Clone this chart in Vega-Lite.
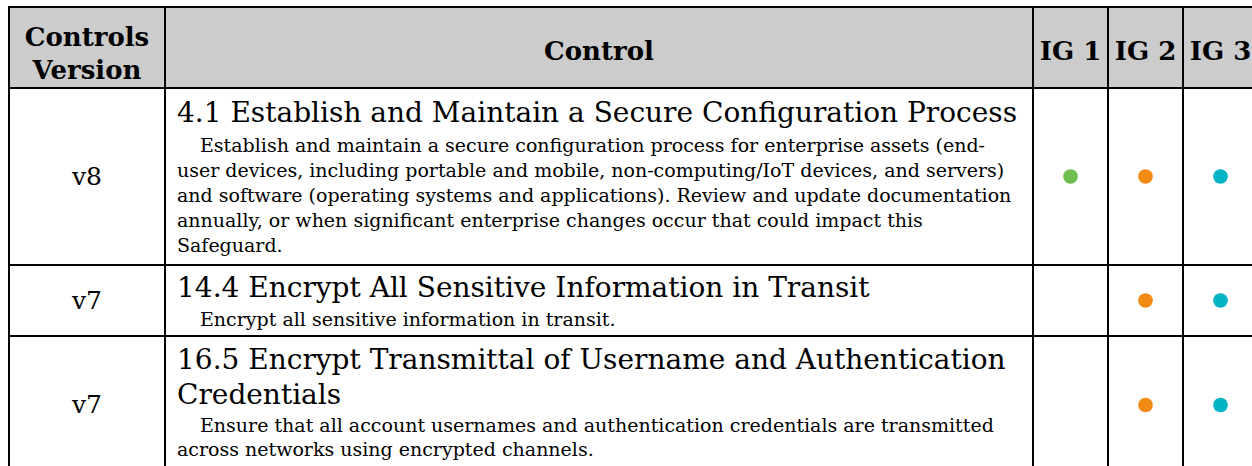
{
  "$schema": "https://vega.github.io/schema/vega-lite/v6.json",
  "padding": {"left": 8, "top": 6, "right": 0, "bottom": 0},
  "background": "white",
  "datasets": {
    "lines": [
      {"row": 0, "col": "ver", "kind": "head", "line": 0, "text": "Controls"},
      {"row": 0, "col": "ver", "kind": "head", "line": 1, "text": "Version"},
      {"row": 0, "col": "ctl", "kind": "head", "line": 0, "text": "Control"},
      {"row": 0, "col": "ig1", "kind": "head", "line": 0, "text": "IG 1"},
      {"row": 0, "col": "ig2", "kind": "head", "line": 0, "text": "IG 2"},
      {"row": 0, "col": "ig3", "kind": "head", "line": 0, "text": "IG 3"},
      {"row": 1, "col": "ver", "kind": "ver", "line": 0, "text": "v8"},
      {"row": 1, "col": "ctl", "kind": "title", "line": 0, "text": "4.1 Establish and Maintain a Secure Configuration Process"},
      {"row": 1, "col": "ctl", "kind": "desc", "line": 0, "text": "Establish and maintain a secure configuration process for enterprise assets (end-"},
      {"row": 1, "col": "ctl", "kind": "desc", "line": 1, "text": "user devices, including portable and mobile, non-computing/IoT devices, and servers)"},
      {"row": 1, "col": "ctl", "kind": "desc", "line": 2, "text": "and software (operating systems and applications). Review and update documentation"},
      {"row": 1, "col": "ctl", "kind": "desc", "line": 3, "text": "annually, or when significant enterprise changes occur that could impact this"},
      {"row": 1, "col": "ctl", "kind": "desc", "line": 4, "text": "Safeguard."},
      {"row": 2, "col": "ver", "kind": "ver", "line": 0, "text": "v7"},
      {"row": 2, "col": "ctl", "kind": "title", "line": 0, "text": "14.4 Encrypt All Sensitive Information in Transit"},
      {"row": 2, "col": "ctl", "kind": "desc", "line": 0, "text": "Encrypt all sensitive information in transit."},
      {"row": 3, "col": "ver", "kind": "ver", "line": 0, "text": "v7"},
      {"row": 3, "col": "ctl", "kind": "title", "line": 0, "text": "16.5 Encrypt Transmittal of Username and Authentication"},
      {"row": 3, "col": "ctl", "kind": "title", "line": 1, "text": "Credentials"},
      {"row": 3, "col": "ctl", "kind": "desc", "line": 0, "text": "Ensure that all account usernames and authentication credentials are transmitted"},
      {"row": 3, "col": "ctl", "kind": "desc", "line": 1, "text": "across networks using encrypted channels."}
    ],
    "dots": [
      {"row": 1, "ig": "ig1"},
      {"row": 1, "ig": "ig2"},
      {"row": 1, "ig": "ig3"},
      {"row": 2, "ig": "ig2"},
      {"row": 2, "ig": "ig3"},
      {"row": 3, "ig": "ig2"},
      {"row": 3, "ig": "ig3"}
    ]
  },
  "columns": 5,
  "spacing": 0,
  "bounds": "flush",
  "concat": [
    {
      "width": 156, "height": 81,
      "view": {"fill": "#cccccc", "stroke": "black", "strokeWidth": 2},
      "data": {"name": "lines"},
      "transform": [{"filter": "datum.row == 0 && datum.col == 'ver'"}],
      "mark": {"type": "text", "font": "DejaVu Serif", "fontWeight": "bold", "fontSize": 26, "align": "center", "baseline": "alphabetic", "color": "black"},
      "encoding": {
        "x": {"field": "col", "type": "nominal", "axis": null, "scale": {"type": "band", "paddingInner": 0, "paddingOuter": 0}, "bandPosition": 0.5},
        "y": {"field": "line", "type": "quantitative", "axis": null, "scale": {"domain": [0, 1], "range": [39, 72], "nice": false, "zero": false}},
        "text": {"field": "text"}
      }
    },
    {
      "width": 868, "height": 81,
      "view": {"fill": "#cccccc", "stroke": "black", "strokeWidth": 2},
      "data": {"name": "lines"},
      "transform": [{"filter": "datum.row == 0 && datum.col == 'ctl'"}],
      "mark": {"type": "text", "font": "DejaVu Serif", "fontWeight": "bold", "fontSize": 26, "align": "center", "baseline": "middle", "dy": 4, "color": "black"},
      "encoding": {
        "x": {"field": "col", "type": "nominal", "axis": null, "scale": {"type": "band", "paddingInner": 0, "paddingOuter": 0}, "bandPosition": 0.5},
        "y": {"field": "row", "type": "nominal", "axis": null, "scale": {"type": "band", "paddingInner": 0, "paddingOuter": 0}, "bandPosition": 0.5},
        "text": {"field": "text"}
      }
    },
    {
      "width": 75, "height": 81,
      "view": {"fill": "#cccccc", "stroke": "black", "strokeWidth": 2},
      "data": {"name": "lines"},
      "transform": [{"filter": "datum.row == 0 && datum.col == 'ig1'"}],
      "mark": {"type": "text", "font": "DejaVu Serif", "fontWeight": "bold", "fontSize": 26, "align": "center", "baseline": "middle", "dy": 4, "color": "black"},
      "encoding": {
        "x": {"field": "col", "type": "nominal", "axis": null, "scale": {"type": "band", "paddingInner": 0, "paddingOuter": 0}, "bandPosition": 0.5},
        "y": {"field": "row", "type": "nominal", "axis": null, "scale": {"type": "band", "paddingInner": 0, "paddingOuter": 0}, "bandPosition": 0.5},
        "text": {"field": "text"}
      }
    },
    {
      "width": 75, "height": 81,
      "view": {"fill": "#cccccc", "stroke": "black", "strokeWidth": 2},
      "data": {"name": "lines"},
      "transform": [{"filter": "datum.row == 0 && datum.col == 'ig2'"}],
      "mark": {"type": "text", "font": "DejaVu Serif", "fontWeight": "bold", "fontSize": 26, "align": "center", "baseline": "middle", "dy": 4, "color": "black"},
      "encoding": {
        "x": {"field": "col", "type": "nominal", "axis": null, "scale": {"type": "band", "paddingInner": 0, "paddingOuter": 0}, "bandPosition": 0.5},
        "y": {"field": "row", "type": "nominal", "axis": null, "scale": {"type": "band", "paddingInner": 0, "paddingOuter": 0}, "bandPosition": 0.5},
        "text": {"field": "text"}
      }
    },
    {
      "width": 75, "height": 81,
      "view": {"fill": "#cccccc", "stroke": "black", "strokeWidth": 2},
      "data": {"name": "lines"},
      "transform": [{"filter": "datum.row == 0 && datum.col == 'ig3'"}],
      "mark": {"type": "text", "font": "DejaVu Serif", "fontWeight": "bold", "fontSize": 26, "align": "center", "baseline": "middle", "dy": 4, "color": "black"},
      "encoding": {
        "x": {"field": "col", "type": "nominal", "axis": null, "scale": {"type": "band", "paddingInner": 0, "paddingOuter": 0}, "bandPosition": 0.5},
        "y": {"field": "row", "type": "nominal", "axis": null, "scale": {"type": "band", "paddingInner": 0, "paddingOuter": 0}, "bandPosition": 0.5},
        "text": {"field": "text"}
      }
    },

    {
      "width": 156, "height": 177,
      "view": {"stroke": "black", "strokeWidth": 2},
      "data": {"name": "lines"},
      "transform": [{"filter": "datum.row == 1 && datum.col == 'ver'"}],
      "mark": {"type": "text", "font": "DejaVu Serif", "fontSize": 25, "align": "center", "baseline": "middle", "color": "black"},
      "encoding": {
        "x": {"field": "col", "type": "nominal", "axis": null, "scale": {"type": "band", "paddingInner": 0, "paddingOuter": 0}, "bandPosition": 0.5},
        "y": {"field": "row", "type": "nominal", "axis": null, "scale": {"type": "band", "paddingInner": 0, "paddingOuter": 0}, "bandPosition": 0.5},
        "text": {"field": "text"}
      }
    },
    {
      "width": 868, "height": 177,
      "view": {"stroke": "black", "strokeWidth": 2},
      "data": {"name": "lines"},
      "transform": [{"filter": "datum.row == 1 && datum.col == 'ctl'"}],
      "layer": [
        {
          "transform": [{"filter": "datum.kind == 'title'"}],
          "mark": {"type": "text", "font": "DejaVu Serif", "fontSize": 28, "align": "left", "baseline": "alphabetic", "dx": 12, "color": "black"},
          "encoding": {
            "x": {"field": "col", "type": "nominal", "axis": null, "scale": {"type": "band", "paddingInner": 0, "paddingOuter": 0}, "bandPosition": 0},
            "y": {"field": "line", "type": "quantitative", "axis": null, "scale": {"domain": [0, 1], "range": [34, 69], "nice": false, "zero": false}},
            "text": {"field": "text"}
          }
        },
        {
          "transform": [{"filter": "datum.kind == 'desc' && datum.line == 0"}],
          "mark": {"type": "text", "font": "DejaVu Serif", "fontSize": 19, "align": "left", "baseline": "alphabetic", "dx": 35, "color": "black"},
          "encoding": {
            "x": {"field": "col", "type": "nominal", "axis": null, "scale": {"type": "band", "paddingInner": 0, "paddingOuter": 0}, "bandPosition": 0},
            "y": {"field": "line", "type": "quantitative", "axis": null, "scale": {"domain": [0, 1], "range": [64, 89], "nice": false, "zero": false}},
            "text": {"field": "text"}
          }
        },
        {
          "transform": [{"filter": "datum.kind == 'desc' && datum.line > 0"}],
          "mark": {"type": "text", "font": "DejaVu Serif", "fontSize": 19, "align": "left", "baseline": "alphabetic", "dx": 12, "color": "black"},
          "encoding": {
            "x": {"field": "col", "type": "nominal", "axis": null, "scale": {"type": "band", "paddingInner": 0, "paddingOuter": 0}, "bandPosition": 0},
            "y": {"field": "line", "type": "quantitative", "axis": null, "scale": {"domain": [0, 1], "range": [64, 89], "nice": false, "zero": false}},
            "text": {"field": "text"}
          }
        }
      ],
      "resolve": {"scale": {"y": "independent"}}
    },
    {
      "width": 75, "height": 177,
      "view": {"stroke": "black", "strokeWidth": 2},
      "data": {"name": "dots"},
      "transform": [{"filter": "datum.row == 1 && datum.ig == 'ig1'"}],
      "mark": {"type": "point", "filled": true, "size": 215, "opacity": 1},
      "encoding": {
        "x": {"field": "ig", "type": "nominal", "axis": null, "scale": {"type": "band", "paddingInner": 0, "paddingOuter": 0}, "bandPosition": 0.5},
        "y": {"field": "row", "type": "nominal", "axis": null, "scale": {"type": "band", "paddingInner": 0, "paddingOuter": 0}, "bandPosition": 0.5},
        "color": {"field": "ig", "type": "nominal", "legend": null, "scale": {"domain": ["ig1", "ig2", "ig3"], "range": ["#70bf4e", "#f28b13", "#00b4c3"]}}
      }
    },
    {
      "width": 75, "height": 177,
      "view": {"stroke": "black", "strokeWidth": 2},
      "data": {"name": "dots"},
      "transform": [{"filter": "datum.row == 1 && datum.ig == 'ig2'"}],
      "mark": {"type": "point", "filled": true, "size": 215, "opacity": 1},
      "encoding": {
        "x": {"field": "ig", "type": "nominal", "axis": null, "scale": {"type": "band", "paddingInner": 0, "paddingOuter": 0}, "bandPosition": 0.5},
        "y": {"field": "row", "type": "nominal", "axis": null, "scale": {"type": "band", "paddingInner": 0, "paddingOuter": 0}, "bandPosition": 0.5},
        "color": {"field": "ig", "type": "nominal", "legend": null, "scale": {"domain": ["ig1", "ig2", "ig3"], "range": ["#70bf4e", "#f28b13", "#00b4c3"]}}
      }
    },
    {
      "width": 75, "height": 177,
      "view": {"stroke": "black", "strokeWidth": 2},
      "data": {"name": "dots"},
      "transform": [{"filter": "datum.row == 1 && datum.ig == 'ig3'"}],
      "mark": {"type": "point", "filled": true, "size": 215, "opacity": 1},
      "encoding": {
        "x": {"field": "ig", "type": "nominal", "axis": null, "scale": {"type": "band", "paddingInner": 0, "paddingOuter": 0}, "bandPosition": 0.5},
        "y": {"field": "row", "type": "nominal", "axis": null, "scale": {"type": "band", "paddingInner": 0, "paddingOuter": 0}, "bandPosition": 0.5},
        "color": {"field": "ig", "type": "nominal", "legend": null, "scale": {"domain": ["ig1", "ig2", "ig3"], "range": ["#70bf4e", "#f28b13", "#00b4c3"]}}
      }
    },

    {
      "width": 156, "height": 71,
      "view": {"stroke": "black", "strokeWidth": 2},
      "data": {"name": "lines"},
      "transform": [{"filter": "datum.row == 2 && datum.col == 'ver'"}],
      "mark": {"type": "text", "font": "DejaVu Serif", "fontSize": 25, "align": "center", "baseline": "middle", "color": "black"},
      "encoding": {
        "x": {"field": "col", "type": "nominal", "axis": null, "scale": {"type": "band", "paddingInner": 0, "paddingOuter": 0}, "bandPosition": 0.5},
        "y": {"field": "row", "type": "nominal", "axis": null, "scale": {"type": "band", "paddingInner": 0, "paddingOuter": 0}, "bandPosition": 0.5},
        "text": {"field": "text"}
      }
    },
    {
      "width": 868, "height": 71,
      "view": {"stroke": "black", "strokeWidth": 2},
      "data": {"name": "lines"},
      "transform": [{"filter": "datum.row == 2 && datum.col == 'ctl'"}],
      "layer": [
        {
          "transform": [{"filter": "datum.kind == 'title'"}],
          "mark": {"type": "text", "font": "DejaVu Serif", "fontSize": 28, "align": "left", "baseline": "alphabetic", "dx": 12, "color": "black"},
          "encoding": {
            "x": {"field": "col", "type": "nominal", "axis": null, "scale": {"type": "band", "paddingInner": 0, "paddingOuter": 0}, "bandPosition": 0},
            "y": {"field": "line", "type": "quantitative", "axis": null, "scale": {"domain": [0, 1], "range": [32, 67], "nice": false, "zero": false}},
            "text": {"field": "text"}
          }
        },
        {
          "transform": [{"filter": "datum.kind == 'desc' && datum.line == 0"}],
          "mark": {"type": "text", "font": "DejaVu Serif", "fontSize": 19, "align": "left", "baseline": "alphabetic", "dx": 35, "color": "black"},
          "encoding": {
            "x": {"field": "col", "type": "nominal", "axis": null, "scale": {"type": "band", "paddingInner": 0, "paddingOuter": 0}, "bandPosition": 0},
            "y": {"field": "line", "type": "quantitative", "axis": null, "scale": {"domain": [0, 1], "range": [61, 86], "nice": false, "zero": false}},
            "text": {"field": "text"}
          }
        }
      ],
      "resolve": {"scale": {"y": "independent"}}
    },
    {
      "width": 75, "height": 71,
      "view": {"stroke": "black", "strokeWidth": 2},
      "data": {"name": "dots"},
      "transform": [{"filter": "datum.row == 2 && datum.ig == 'ig1'"}],
      "mark": {"type": "point", "filled": true, "size": 215, "opacity": 1},
      "encoding": {
        "x": {"field": "ig", "type": "nominal", "axis": null, "scale": {"type": "band", "paddingInner": 0, "paddingOuter": 0}, "bandPosition": 0.5},
        "y": {"field": "row", "type": "nominal", "axis": null, "scale": {"type": "band", "paddingInner": 0, "paddingOuter": 0}, "bandPosition": 0.5},
        "color": {"field": "ig", "type": "nominal", "legend": null, "scale": {"domain": ["ig1", "ig2", "ig3"], "range": ["#70bf4e", "#f28b13", "#00b4c3"]}}
      }
    },
    {
      "width": 75, "height": 71,
      "view": {"stroke": "black", "strokeWidth": 2},
      "data": {"name": "dots"},
      "transform": [{"filter": "datum.row == 2 && datum.ig == 'ig2'"}],
      "mark": {"type": "point", "filled": true, "size": 215, "opacity": 1},
      "encoding": {
        "x": {"field": "ig", "type": "nominal", "axis": null, "scale": {"type": "band", "paddingInner": 0, "paddingOuter": 0}, "bandPosition": 0.5},
        "y": {"field": "row", "type": "nominal", "axis": null, "scale": {"type": "band", "paddingInner": 0, "paddingOuter": 0}, "bandPosition": 0.5},
        "color": {"field": "ig", "type": "nominal", "legend": null, "scale": {"domain": ["ig1", "ig2", "ig3"], "range": ["#70bf4e", "#f28b13", "#00b4c3"]}}
      }
    },
    {
      "width": 75, "height": 71,
      "view": {"stroke": "black", "strokeWidth": 2},
      "data": {"name": "dots"},
      "transform": [{"filter": "datum.row == 2 && datum.ig == 'ig3'"}],
      "mark": {"type": "point", "filled": true, "size": 215, "opacity": 1},
      "encoding": {
        "x": {"field": "ig", "type": "nominal", "axis": null, "scale": {"type": "band", "paddingInner": 0, "paddingOuter": 0}, "bandPosition": 0.5},
        "y": {"field": "row", "type": "nominal", "axis": null, "scale": {"type": "band", "paddingInner": 0, "paddingOuter": 0}, "bandPosition": 0.5},
        "color": {"field": "ig", "type": "nominal", "legend": null, "scale": {"domain": ["ig1", "ig2", "ig3"], "range": ["#70bf4e", "#f28b13", "#00b4c3"]}}
      }
    },

    {
      "width": 156, "height": 138,
      "view": {"stroke": "black", "strokeWidth": 2},
      "data": {"name": "lines"},
      "transform": [{"filter": "datum.row == 3 && datum.col == 'ver'"}],
      "mark": {"type": "text", "font": "DejaVu Serif", "fontSize": 25, "align": "center", "baseline": "middle", "color": "black"},
      "encoding": {
        "x": {"field": "col", "type": "nominal", "axis": null, "scale": {"type": "band", "paddingInner": 0, "paddingOuter": 0}, "bandPosition": 0.5},
        "y": {"field": "row", "type": "nominal", "axis": null, "scale": {"type": "band", "paddingInner": 0, "paddingOuter": 0}, "bandPosition": 0.5},
        "text": {"field": "text"}
      }
    },
    {
      "width": 868, "height": 138,
      "view": {"stroke": "black", "strokeWidth": 2},
      "data": {"name": "lines"},
      "transform": [{"filter": "datum.row == 3 && datum.col == 'ctl'"}],
      "layer": [
        {
          "transform": [{"filter": "datum.kind == 'title'"}],
          "mark": {"type": "text", "font": "DejaVu Serif", "fontSize": 28, "align": "left", "baseline": "alphabetic", "dx": 12, "color": "black"},
          "encoding": {
            "x": {"field": "col", "type": "nominal", "axis": null, "scale": {"type": "band", "paddingInner": 0, "paddingOuter": 0}, "bandPosition": 0},
            "y": {"field": "line", "type": "quantitative", "axis": null, "scale": {"domain": [0, 1], "range": [33, 68], "nice": false, "zero": false}},
            "text": {"field": "text"}
          }
        },
        {
          "transform": [{"filter": "datum.kind == 'desc' && datum.line == 0"}],
          "mark": {"type": "text", "font": "DejaVu Serif", "fontSize": 19, "align": "left", "baseline": "alphabetic", "dx": 35, "color": "black"},
          "encoding": {
            "x": {"field": "col", "type": "nominal", "axis": null, "scale": {"type": "band", "paddingInner": 0, "paddingOuter": 0}, "bandPosition": 0},
            "y": {"field": "line", "type": "quantitative", "axis": null, "scale": {"domain": [0, 1], "range": [96, 120], "nice": false, "zero": false}},
            "text": {"field": "text"}
          }
        },
        {
          "transform": [{"filter": "datum.kind == 'desc' && datum.line > 0"}],
          "mark": {"type": "text", "font": "DejaVu Serif", "fontSize": 19, "align": "left", "baseline": "alphabetic", "dx": 12, "color": "black"},
          "encoding": {
            "x": {"field": "col", "type": "nominal", "axis": null, "scale": {"type": "band", "paddingInner": 0, "paddingOuter": 0}, "bandPosition": 0},
            "y": {"field": "line", "type": "quantitative", "axis": null, "scale": {"domain": [0, 1], "range": [96, 120], "nice": false, "zero": false}},
            "text": {"field": "text"}
          }
        }
      ],
      "resolve": {"scale": {"y": "independent"}}
    },
    {
      "width": 75, "height": 138,
      "view": {"stroke": "black", "strokeWidth": 2},
      "data": {"name": "dots"},
      "transform": [{"filter": "datum.row == 3 && datum.ig == 'ig1'"}],
      "mark": {"type": "point", "filled": true, "size": 215, "opacity": 1},
      "encoding": {
        "x": {"field": "ig", "type": "nominal", "axis": null, "scale": {"type": "band", "paddingInner": 0, "paddingOuter": 0}, "bandPosition": 0.5},
        "y": {"field": "row", "type": "nominal", "axis": null, "scale": {"type": "band", "paddingInner": 0, "paddingOuter": 0}, "bandPosition": 0.5},
        "color": {"field": "ig", "type": "nominal", "legend": null, "scale": {"domain": ["ig1", "ig2", "ig3"], "range": ["#70bf4e", "#f28b13", "#00b4c3"]}}
      }
    },
    {
      "width": 75, "height": 138,
      "view": {"stroke": "black", "strokeWidth": 2},
      "data": {"name": "dots"},
      "transform": [{"filter": "datum.row == 3 && datum.ig == 'ig2'"}],
      "mark": {"type": "point", "filled": true, "size": 215, "opacity": 1},
      "encoding": {
        "x": {"field": "ig", "type": "nominal", "axis": null, "scale": {"type": "band", "paddingInner": 0, "paddingOuter": 0}, "bandPosition": 0.5},
        "y": {"field": "row", "type": "nominal", "axis": null, "scale": {"type": "band", "paddingInner": 0, "paddingOuter": 0}, "bandPosition": 0.5},
        "color": {"field": "ig", "type": "nominal", "legend": null, "scale": {"domain": ["ig1", "ig2", "ig3"], "range": ["#70bf4e", "#f28b13", "#00b4c3"]}}
      }
    },
    {
      "width": 75, "height": 138,
      "view": {"stroke": "black", "strokeWidth": 2},
      "data": {"name": "dots"},
      "transform": [{"filter": "datum.row == 3 && datum.ig == 'ig3'"}],
      "mark": {"type": "point", "filled": true, "size": 215, "opacity": 1},
      "encoding": {
        "x": {"field": "ig", "type": "nominal", "axis": null, "scale": {"type": "band", "paddingInner": 0, "paddingOuter": 0}, "bandPosition": 0.5},
        "y": {"field": "row", "type": "nominal", "axis": null, "scale": {"type": "band", "paddingInner": 0, "paddingOuter": 0}, "bandPosition": 0.5},
        "color": {"field": "ig", "type": "nominal", "legend": null, "scale": {"domain": ["ig1", "ig2", "ig3"], "range": ["#70bf4e", "#f28b13", "#00b4c3"]}}
      }
    }
  ],
  "config": {
    "view": {"stroke": "black", "strokeWidth": 2},
    "text": {"font": "DejaVu Serif", "color": "black"}
  }
}
